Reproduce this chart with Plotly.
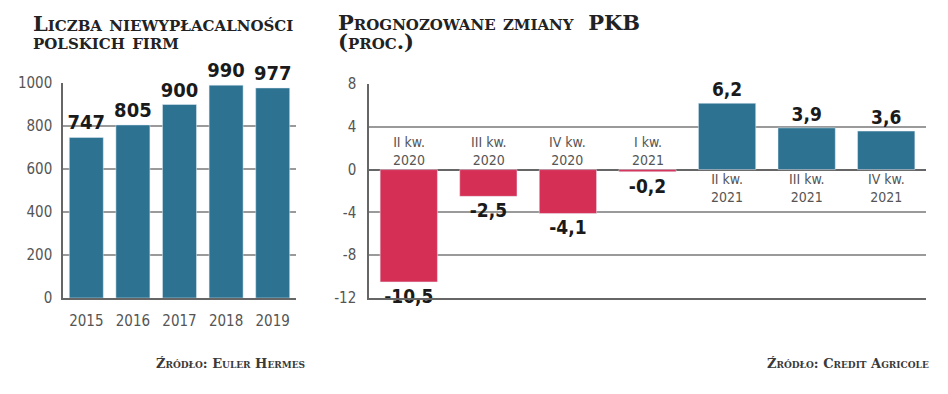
import plotly.graph_objects as go

# ---- data ----
years = ["2015", "2016", "2017", "2018", "2019"]
insolvencies = [747, 805, 900, 990, 977]

quarters = ["II kw.<br>2020", "III kw.<br>2020", "IV kw.<br>2020", "I kw.<br>2021",
            "II kw.<br>2021", "III kw.<br>2021", "IV kw.<br>2021"]
gdp_change = [-10.5, -2.5, -4.1, -0.2, 6.2, 3.9, 3.6]

left_ticks = [0, 200, 400, 600, 800, 1000]
right_ticks = [-12, -8, -4, 0, 4, 8]

# ---- styling ----
W, H = 948, 394
BLUE = "#2d7391"
RED = "#d62f55"
GRID = "#9a9a9a"
TICKC = "#555555"
SANS = "DejaVu Sans Condensed, sans-serif"
SERIF = "DejaVu Serif, Liberation Serif, serif"

def px_x(a, b):
    return [a / W, b / W]

def px_y(top, bottom):
    return [(H - bottom) / H, (H - top) / H]

def fmt_pl(v):
    return f"{v:.1f}".replace(".", ",")

tickfont = dict(family=SANS, size=15, color=TICKC)

fig = go.Figure()

fig.add_trace(go.Bar(
    x=years, y=insolvencies, marker_color=BLUE, width=0.73,
    text=[str(v) for v in insolvencies], textposition="outside", cliponaxis=False,
    constraintext="none",
    textfont=dict(family=SANS, size=20, color="#1a1a1a", weight="bold"),
    xaxis="x", yaxis="y", showlegend=False, hoverinfo="skip",
))

colors = [RED if v < 0 else BLUE for v in gdp_change]
fig.add_trace(go.Bar(
    x=list(range(len(quarters))), y=gdp_change, marker_color=colors, width=0.72,
    text=[fmt_pl(v) for v in gdp_change], textposition="outside", cliponaxis=False,
    constraintext="none",
    textfont=dict(family=SANS, size=19, color="#1a1a1a", weight="bold"),
    xaxis="x2", yaxis="y2", showlegend=False, hoverinfo="skip",
))

annotations = []
# category labels on right chart
for i, (q, v) in enumerate(zip(quarters, gdp_change)):
    annotations.append(dict(
        x=i, y=0, xref="x2", yref="y2", text=q, showarrow=False,
        yanchor="bottom" if v < 0 else "top", yshift=0 if v < 0 else 1,
        font=dict(family=SANS, size=14, color=TICKC),
    ))

# titles
def title(x, y, text, size=21):
    annotations.append(dict(
        x=x / W, y=1 - y / H, xref="paper", yref="paper", text=text,
        showarrow=False, xanchor="left", yanchor="middle",
        font=dict(family=SERIF, size=size, color="#222222", weight="bold",
                  variant="small-caps"),
    ))

title(31, 24, "Liczba niewypłacalności")
title(31, 41, "polskich firm")
title(336, 22, "Prognozowane zmiany  PKB")
title(336, 41, "(proc.)")

def source(x, text):
    annotations.append(dict(
        x=x / W, y=1 - 363 / H, xref="paper", yref="paper", text=text,
        showarrow=False, xanchor="right", yanchor="middle",
        font=dict(family=SERIF, size=13, color="#3a3a3a", weight="bold",
                  variant="small-caps"),
    ))

source(307, "Źródło: Euler Hermes")
source(931, "Źródło: Credit Agricole")

fig.update_layout(
    width=W, height=H, margin=dict(l=0, r=0, t=0, b=0, autoexpand=False),
    paper_bgcolor="white", plot_bgcolor="white",
    bargap=0.27,
    annotations=annotations,
    xaxis=dict(domain=px_x(63, 296), showgrid=False, showline=True,
               linecolor="#666666", linewidth=1.5, ticks="", automargin=False,
               tickfont=tickfont, ticklabelstandoff=8, fixedrange=True),
    yaxis=dict(domain=px_y(83, 298), range=[0, 1000], tickvals=left_ticks,
               ticktext=[str(t) for t in left_ticks], automargin=False,
               showgrid=True, gridcolor=GRID, gridwidth=1.5,
               showline=True, linecolor="#666666", linewidth=1.5,
               zeroline=False, ticks="", tickfont=tickfont,
               ticklabelstandoff=6),
    xaxis2=dict(domain=px_x(369, 926), range=[-0.5, 6.5], showgrid=False,
                showticklabels=False, showline=True, linecolor="#666666",
                linewidth=1.5, anchor="y2", automargin=False),
    yaxis2=dict(domain=px_y(84, 298), range=[-12, 8], tickvals=right_ticks,
                ticktext=[str(t) for t in right_ticks], automargin=False,
                anchor="x2", showgrid=True, gridcolor=GRID, gridwidth=1.5,
                showline=True, linecolor="#666666", linewidth=1.5,
                zeroline=True, zerolinecolor="#666666", zerolinewidth=1.5,
                ticks="", tickfont=tickfont, ticklabelstandoff=8),
)

fig.write_html("out.html", config={"displayModeBar": False},
               post_script="document.body.style.margin='0';")
